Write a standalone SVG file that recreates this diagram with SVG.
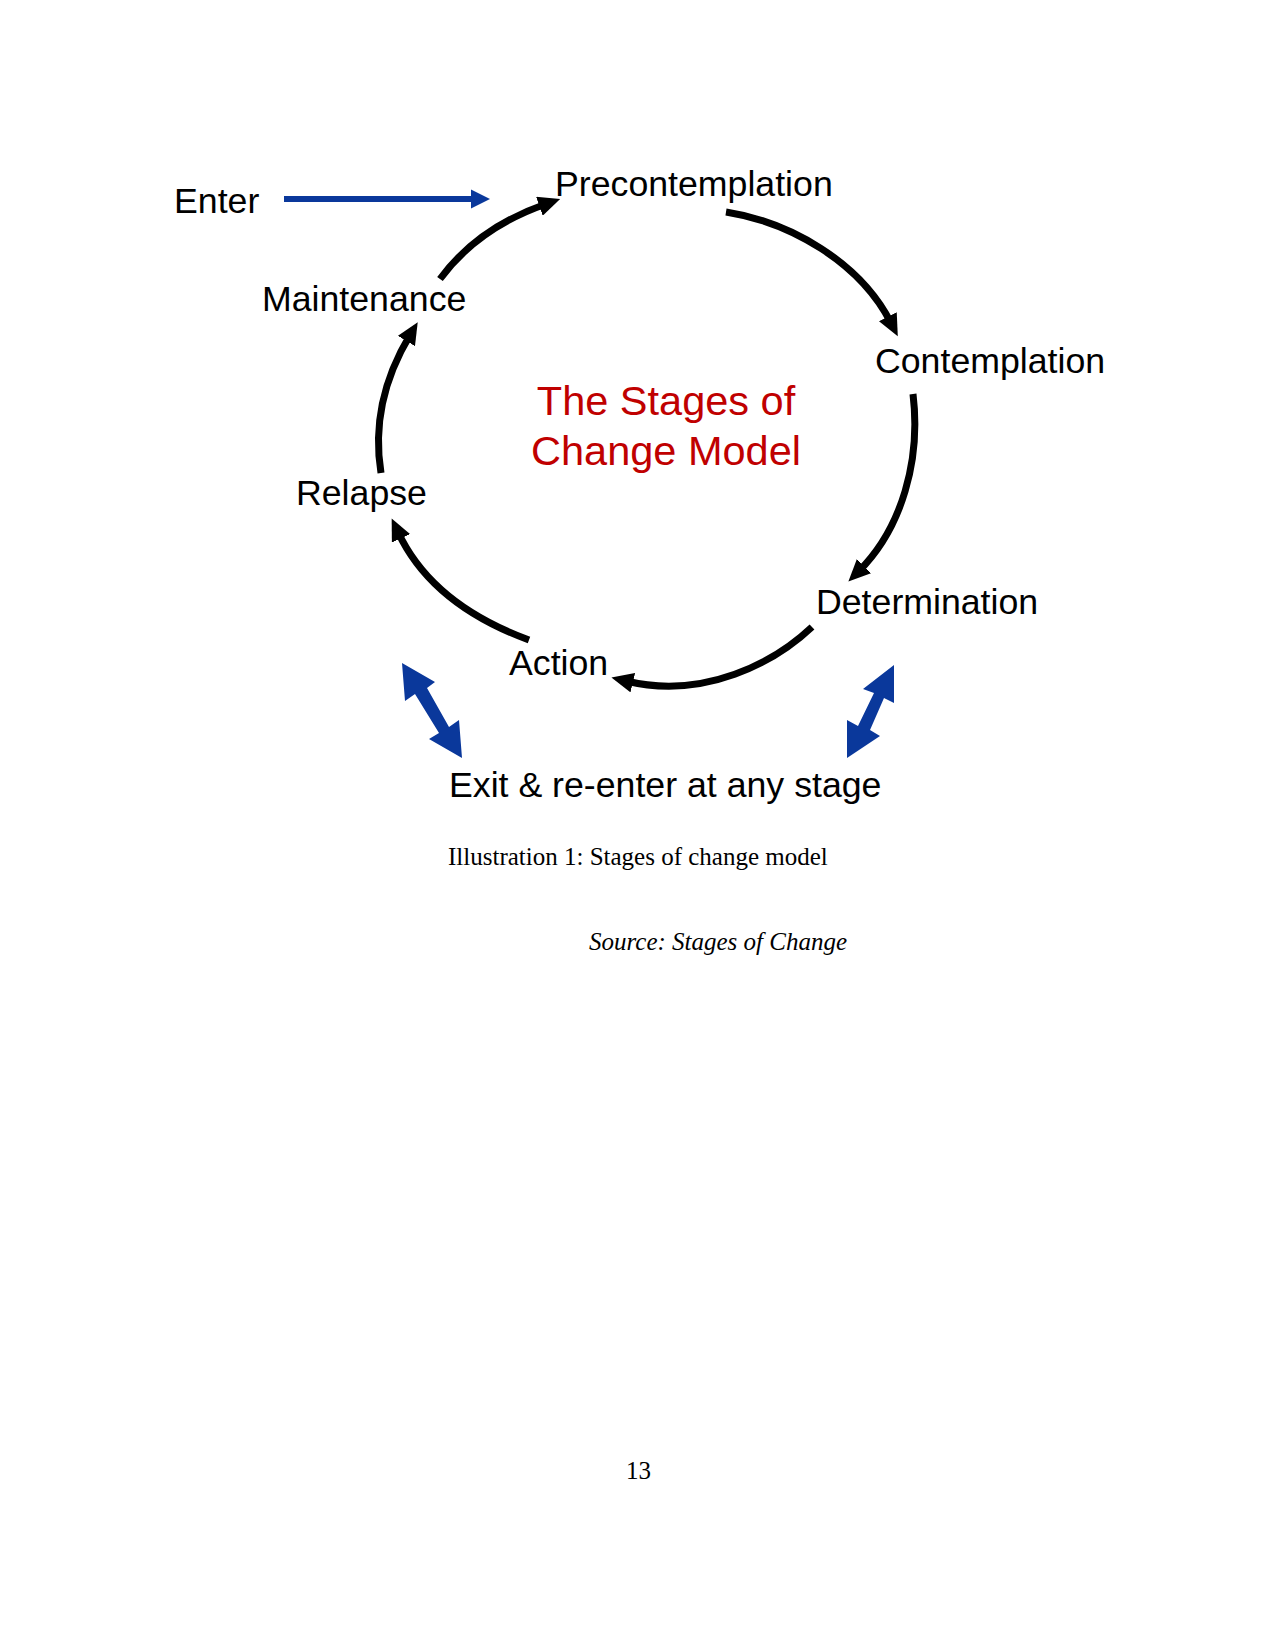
<svg xmlns="http://www.w3.org/2000/svg" width="1275" height="1650" viewBox="0 0 1275 1650">
<style>
.lbl{font-family:"Liberation Sans",Arial,sans-serif;font-size:35.7px;fill:#000}
.title{font-family:"Liberation Sans",Arial,sans-serif;font-size:41.5px;fill:#C00000;text-anchor:middle}
.cap{font-family:"Liberation Serif","Times New Roman",serif;font-size:25px;fill:#000}
.arc{fill:none;stroke:#000;stroke-width:7;marker-end:url(#ah)}
.blue{fill:#0A389B}
</style>
<defs>
<marker id="ah" viewBox="0 0 22 20" markerWidth="22" markerHeight="20" markerUnits="userSpaceOnUse" refX="7" refY="10" orient="auto">
<path d="M0,0 L22,10 L0,20 z" fill="#000"/>
</marker>
</defs>
<rect width="1275" height="1650" fill="#fff"/>
<g id="enter"><text class="lbl" x="174" y="213">Enter</text></g>
<g id="precontemplation"><text class="lbl" x="555" y="196">Precontemplation</text></g>
<g id="contemplation"><text class="lbl" x="875" y="373">Contemplation</text></g>
<g id="determination"><text class="lbl" x="816" y="614">Determination</text></g>
<g id="action"><text class="lbl" x="509" y="675">Action</text></g>
<g id="relapse"><text class="lbl" x="296" y="505">Relapse</text></g>
<g id="maintenance"><text class="lbl" x="262" y="311">Maintenance</text></g>
<g id="center-title"><text class="title" x="666" y="415">The Stages of</text><text class="title" x="666" y="465">Change Model</text></g>
<g id="exit"><text class="lbl" x="449" y="797">Exit &amp; re-enter at any stage</text></g>
<g id="connectors">
<path class="arc" d="M726,212 C790,222 860,262 891,323"/>
<path class="arc" d="M913,394 C921,460 902,528 859,571"/>
<path class="arc" d="M812,627 C775,662 705,700 626,681"/>
<path class="arc" d="M529,640 C480,622 425,590 398,532"/>
<path class="arc" d="M381,473 C374,430 380,385 410,335"/>
<path class="arc" d="M440,279 C465,245 500,220 546,204"/>
<rect class="blue" x="284" y="196" width="190" height="6"/>
<polygon class="blue" points="471,189.5 490,199 471,208.5"/>
<polygon class="blue" points="402,663 435,682 427,688 449,727 459,720 462,758 429,739 439,733 415,694 405,701"/>
<polygon class="blue" points="894,665 894,703 884,698 870,730 880,736 847,758 847,720 858,726 874,693 863,689"/>
</g>
<g id="caption">
<text class="cap" x="448" y="865">Illustration 1: Stages of change model</text>
<text class="cap" x="589" y="950" font-style="italic">Source: Stages of Change</text>
<text class="cap" x="626" y="1479">13</text>
</g>
</svg>
